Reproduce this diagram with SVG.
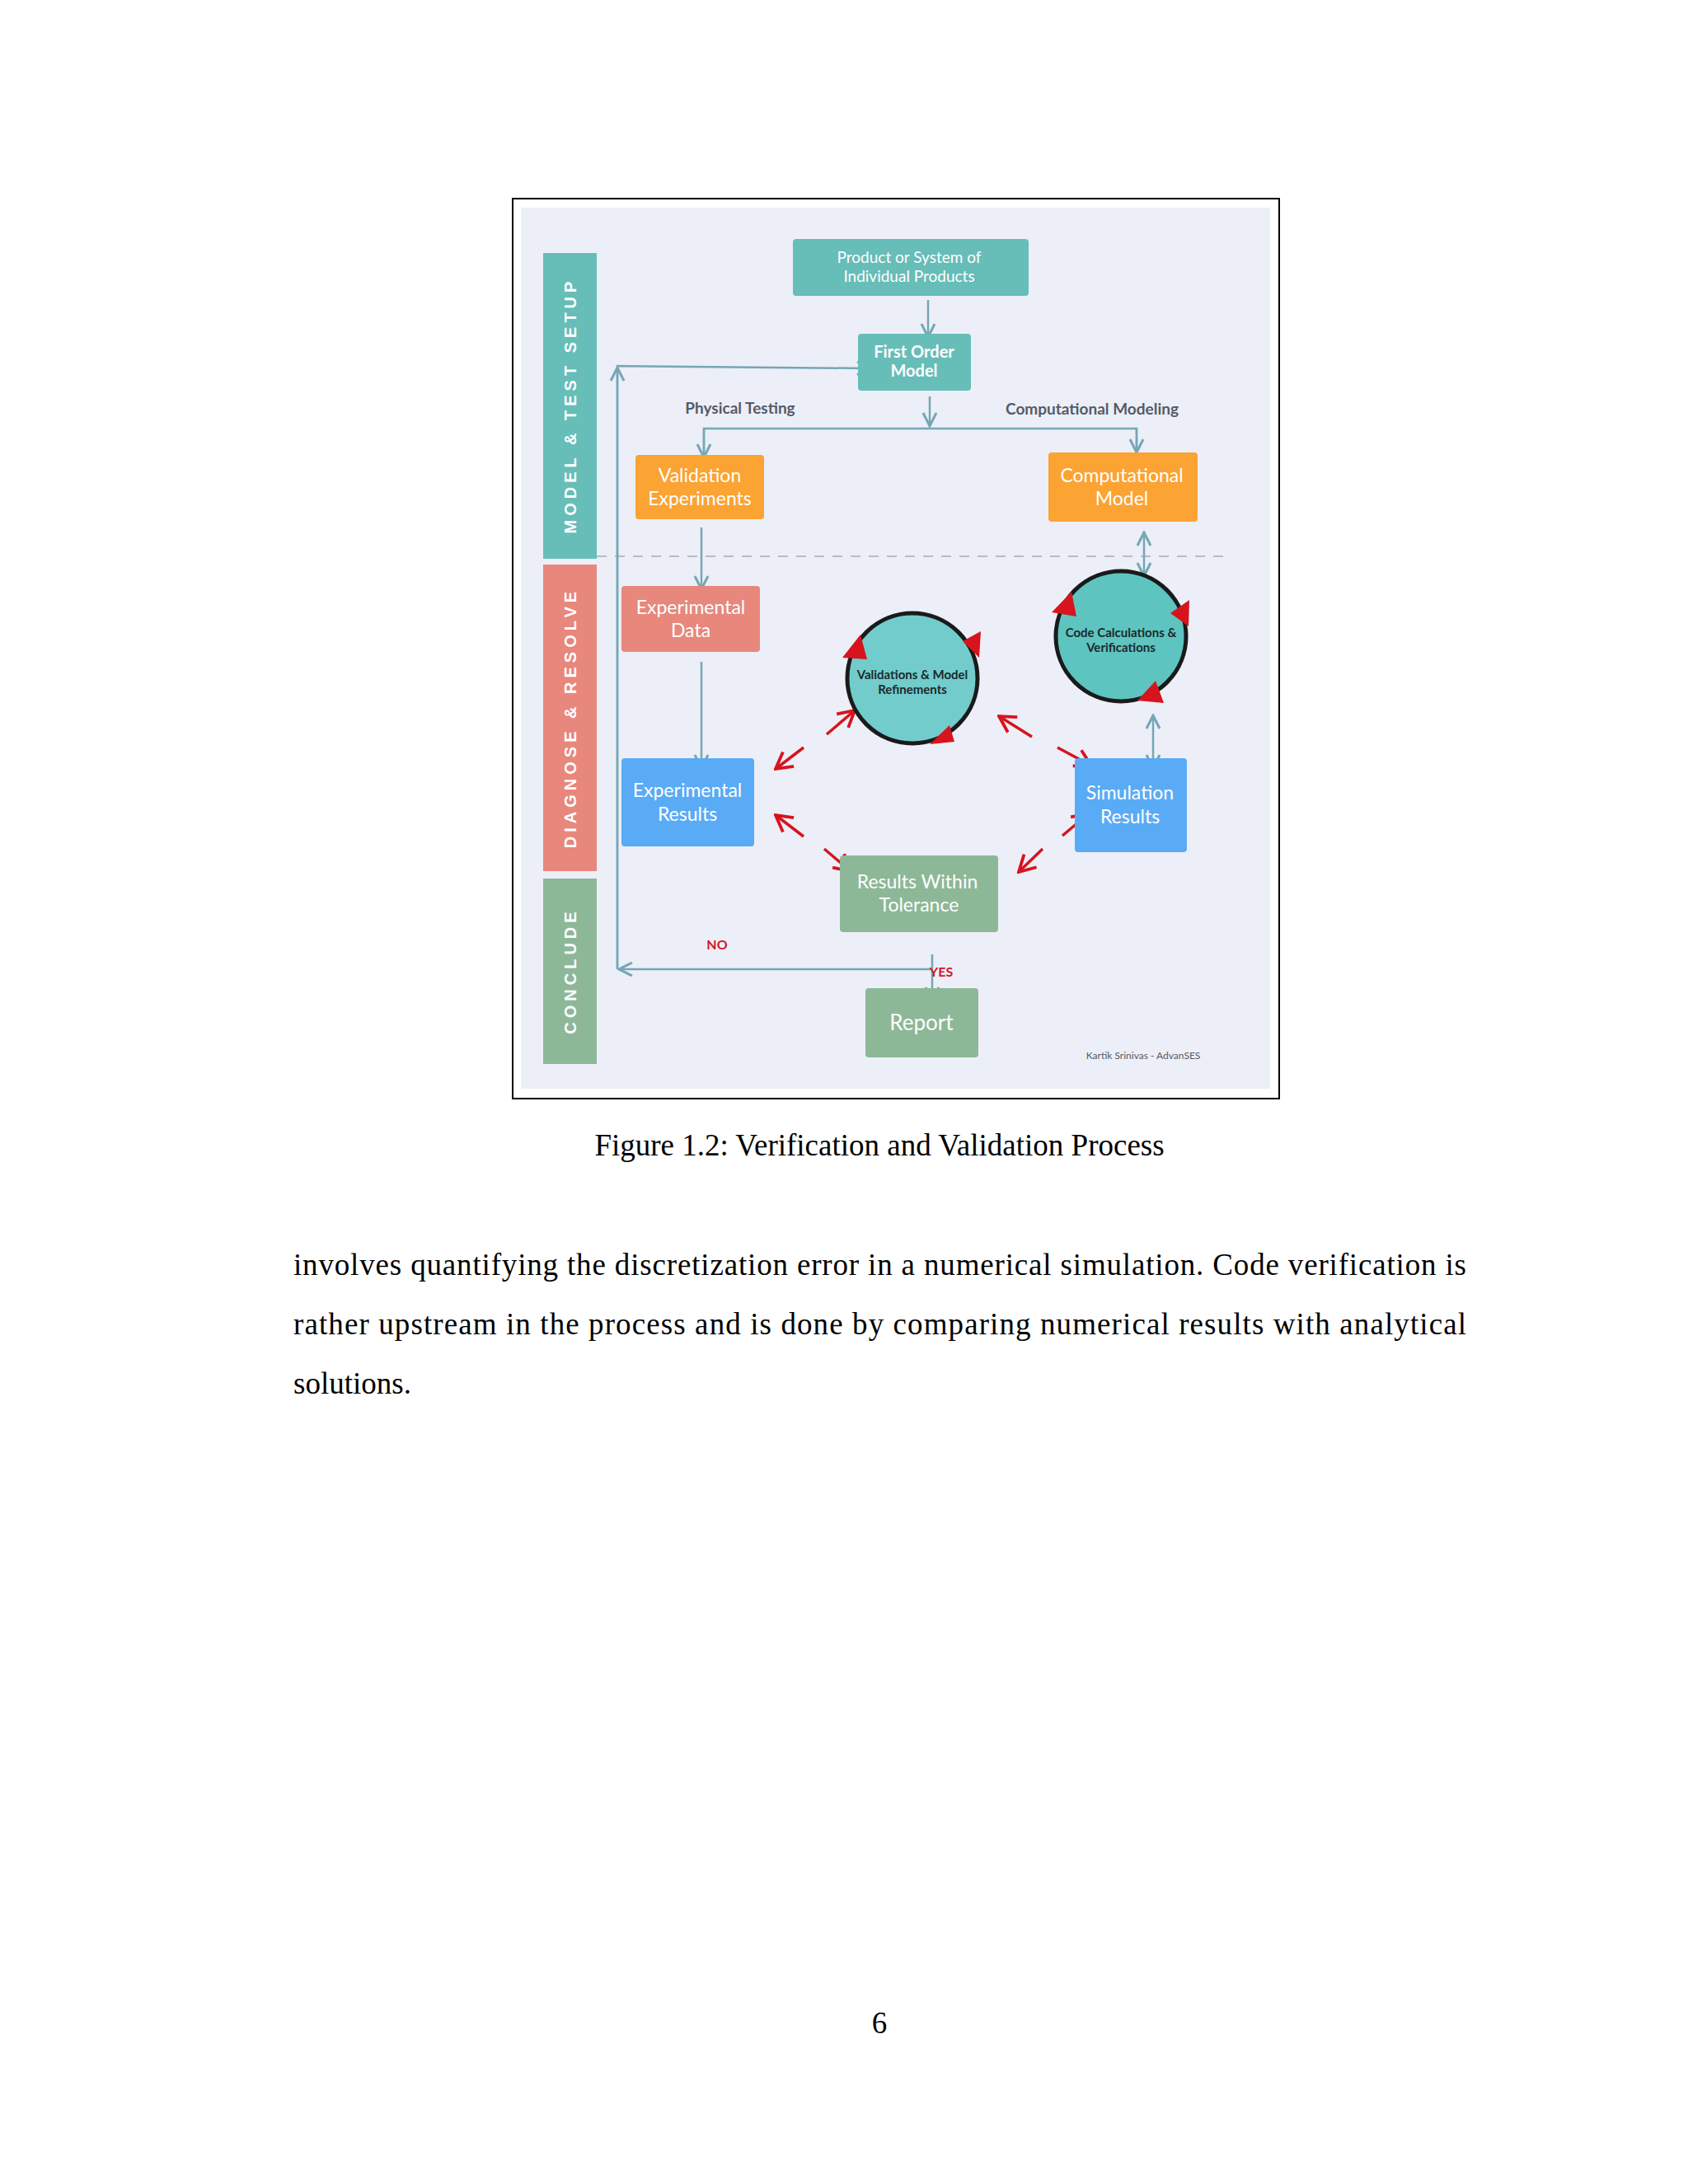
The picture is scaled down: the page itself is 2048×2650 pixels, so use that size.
<svg xmlns="http://www.w3.org/2000/svg" width="2048" height="2650" viewBox="0 0 2048 2650">
<style>
.bt{font-family:Lato,"Liberation Sans",sans-serif;fill:#fff;text-anchor:middle}
.lab{font-family:Lato,"Liberation Sans",sans-serif;fill:#555a66;font-weight:bold;font-size:19px;text-anchor:middle}
.side{font-family:"Liberation Sans",sans-serif;fill:#fff;font-weight:bold;font-size:20px;letter-spacing:5px;text-anchor:middle}
.con{stroke:#75a7b5;stroke-width:2.5;fill:none}
.red{stroke:#d7141e;stroke-width:3.5;fill:none}
.ser{font-family:"Liberation Serif",serif;fill:#000}
.tri{fill:#d7141e}
</style>
<defs>
<marker id="ah" viewBox="0 0 20 20" refX="18" refY="10" markerWidth="20" markerHeight="20" markerUnits="userSpaceOnUse" orient="auto-start-reverse">
<path d="M2,2 L18,10 L2,18" fill="none" stroke="#75a7b5" stroke-width="3"/>
</marker>
<marker id="rh" viewBox="0 0 24 24" refX="22" refY="12" markerWidth="26" markerHeight="26" markerUnits="userSpaceOnUse" orient="auto">
<path d="M4,2 L22,12 L4,22" fill="none" stroke="#d7141e" stroke-width="3.5"/>
</marker>
</defs>
<rect width="2048" height="2650" fill="#fff"/>
<rect x="622" y="241" width="930" height="1092" fill="#fff" stroke="#000" stroke-width="2"/>
<rect x="632" y="252" width="909" height="1069" fill="#eceff8"/>
<line x1="724" y1="675" x2="1485" y2="675" stroke="#b5bcc6" stroke-width="2" stroke-dasharray="12,10"/>

<g id="bar-model"><rect x="659" y="307" width="65" height="371" fill="#67bdb8"/><text class="side" transform="translate(699,492) rotate(-90)">MODEL &amp; TEST SETUP</text></g>
<g id="bar-diagnose"><rect x="659" y="685" width="65" height="372" fill="#e8877c"/><text class="side" transform="translate(699,871) rotate(-90)">DIAGNOSE &amp; RESOLVE</text></g>
<g id="bar-conclude"><rect x="659" y="1066" width="65" height="225" fill="#8db898"/><text class="side" transform="translate(699,1178) rotate(-90)">CONCLUDE</text></g>

<g id="connectors">
<line class="con" x1="1126" y1="364" x2="1126" y2="409" marker-end="url(#ah)"/>
<polyline class="con" points="749,1176 749,444 1056,447" marker-end="url(#ah)"/>
<line class="con" x1="749" y1="1176" x2="749" y2="446" marker-end="url(#ah)"/>
<line class="con" x1="1128" y1="481" x2="1128" y2="517" marker-end="url(#ah)"/>
<polyline class="con" points="854,557 854,520 1379,520 1379,551"/>
<line class="con" x1="854" y1="520" x2="854" y2="555" marker-end="url(#ah)"/>
<line class="con" x1="1379" y1="520" x2="1379" y2="549" marker-end="url(#ah)"/>
<line class="con" x1="851" y1="640" x2="851" y2="715" marker-end="url(#ah)"/>
<line class="con" x1="1388" y1="646" x2="1388" y2="699" marker-start="url(#ah)" marker-end="url(#ah)"/>
<line class="con" x1="851" y1="803" x2="851" y2="932" marker-end="url(#ah)"/>
<line class="con" x1="1399" y1="868" x2="1399" y2="932" marker-start="url(#ah)" marker-end="url(#ah)"/>
<line class="con" x1="1131" y1="1158" x2="1131" y2="1214" marker-end="url(#ah)"/>
<line class="con" x1="1131" y1="1176" x2="751" y2="1176" marker-end="url(#ah)"/>
<line class="red" x1="975" y1="907" x2="941" y2="933" marker-end="url(#rh)"/>
<line class="red" x1="1003" y1="891" x2="1037" y2="862" marker-end="url(#rh)"/>
<line class="red" x1="1252" y1="894" x2="1212" y2="869" marker-end="url(#rh)"/>
<line class="red" x1="1283" y1="907" x2="1324" y2="929" marker-end="url(#rh)"/>
<line class="red" x1="975" y1="1015" x2="941" y2="989" marker-end="url(#rh)"/>
<line class="red" x1="1000" y1="1030" x2="1032" y2="1057" marker-end="url(#rh)"/>
<line class="red" x1="1265" y1="1030" x2="1236" y2="1058" marker-end="url(#rh)"/>
<line class="red" x1="1289" y1="1014" x2="1321" y2="987" marker-end="url(#rh)"/>
</g>

<text class="lab" x="898" y="502">Physical Testing</text>
<text class="lab" x="1325" y="503">Computational Modeling</text>
<text x="870" y="1152" font-family="Lato,'Liberation Sans',sans-serif" font-size="16" font-weight="bold" fill="#d7141e" text-anchor="middle">NO</text>
<text x="1142" y="1185" font-family="Lato,'Liberation Sans',sans-serif" font-size="16" font-weight="bold" fill="#d7141e" text-anchor="middle">YES</text>

<g id="product"><rect x="962" y="290" width="286" height="69" rx="4" fill="#67bdb8"/><text class="bt" font-size="19" x="1103" y="319">Product or System of</text><text class="bt" font-size="19" x="1103" y="342">Individual Products</text></g>
<g id="first-order"><rect x="1041" y="405" width="137" height="69" rx="4" fill="#67bdb8"/><text class="bt" font-size="20" font-weight="bold" x="1109" y="434">First Order</text><text class="bt" font-size="20" font-weight="bold" x="1109" y="457">Model</text></g>
<g id="validation-exp"><rect x="771" y="552" width="156" height="78" rx="4" fill="#fba333"/><text class="bt" font-size="23" x="849" y="585">Validation</text><text class="bt" font-size="23" x="849" y="613">Experiments</text></g>
<g id="comp-model"><rect x="1272" y="549" width="181" height="84" rx="4" fill="#fba333"/><text class="bt" font-size="23" x="1361" y="585">Computational</text><text class="bt" font-size="23" x="1361" y="613">Model</text></g>
<g id="exp-data"><rect x="754" y="711" width="168" height="80" rx="4" fill="#e8877c"/><text class="bt" font-size="23" x="838" y="745">Experimental</text><text class="bt" font-size="23" x="838" y="773">Data</text></g>
<g id="exp-results"><rect x="754" y="920" width="161" height="107" rx="4" fill="#5aabf5"/><text class="bt" font-size="23" x="834" y="967">Experimental</text><text class="bt" font-size="23" x="834" y="996">Results</text></g>
<g id="sim-results"><rect x="1304" y="920" width="136" height="114" rx="4" fill="#5aabf5"/><text class="bt" font-size="23" x="1371" y="970">Simulation</text><text class="bt" font-size="23" x="1371" y="999">Results</text></g>
<g id="tolerance"><rect x="1019" y="1038" width="192" height="93" rx="4" fill="#8db898"/><text class="bt" font-size="23" x="1113" y="1078">Results Within</text><text class="bt" font-size="23" x="1115" y="1106">Tolerance</text></g>
<g id="report"><rect x="1050" y="1199" width="137" height="84" rx="4" fill="#8db898"/><text class="bt" font-size="26" x="1118" y="1250">Report</text></g>

<g id="validations-circle"><circle cx="1107" cy="823" r="79" fill="#72cccc" stroke="#1a1a1a" stroke-width="5"/>
<text x="1107" y="824" font-family="Lato,'Liberation Sans',sans-serif" font-size="15" font-weight="bold" fill="#1a2a2a" text-anchor="middle">Validations &amp; Model</text>
<text x="1107" y="842" font-family="Lato,'Liberation Sans',sans-serif" font-size="15" font-weight="bold" fill="#1a2a2a" text-anchor="middle">Refinements</text>
<polygon class="tri" points="1022,798 1044,770 1052,800"/><polygon class="tri" points="1168,778 1190,766 1188,798"/><polygon class="tri" points="1128,903 1152,880 1158,900"/></g>
<g id="code-circle"><circle cx="1360" cy="772" r="79" fill="#5ec4c0" stroke="#1a1a1a" stroke-width="5"/>
<text x="1360" y="773" font-family="Lato,'Liberation Sans',sans-serif" font-size="15" font-weight="bold" fill="#1a2a2a" text-anchor="middle">Code Calculations &amp;</text>
<text x="1360" y="791" font-family="Lato,'Liberation Sans',sans-serif" font-size="15" font-weight="bold" fill="#1a2a2a" text-anchor="middle">Verifications</text>
<polygon class="tri" points="1276,743 1300,718 1306,748"/><polygon class="tri" points="1420,744 1443,728 1442,760"/><polygon class="tri" points="1380,850 1402,826 1412,853"/></g>

<text x="1387" y="1285" font-family="Lato,'Liberation Sans',sans-serif" font-size="12" fill="#555a66" text-anchor="middle">Kartik Srinivas - AdvanSES</text>

<text class="ser" x="1067" y="1402" font-size="37" text-anchor="middle">Figure 1.2:   Verification and Validation Process</text>
<text class="ser" x="356" y="1547" font-size="37" textLength="1423" lengthAdjust="spacing">involves quantifying the discretization error in a numerical simulation. Code verification is</text>
<text class="ser" x="356" y="1619" font-size="37" textLength="1423" lengthAdjust="spacing">rather upstream in the process and is done by comparing numerical results with analytical</text>
<text class="ser" x="356" y="1691" font-size="37">solutions.</text>
<text class="ser" x="1067" y="2467" font-size="37" text-anchor="middle">6</text>
</svg>
